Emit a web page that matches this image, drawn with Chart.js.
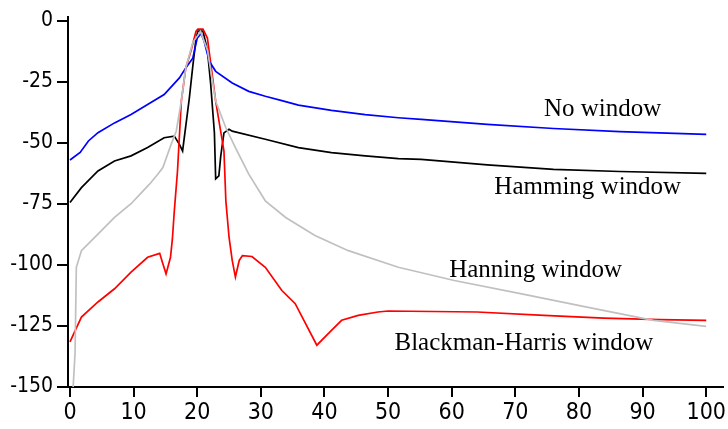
<!DOCTYPE html>
<html>
<head>
<meta charset="utf-8">
<script src="https://cdn.jsdelivr.net/npm/chart.js@4.4.1/dist/chart.umd.min.js"></script>
<style>
  html, body { margin: 0; padding: 0; background: #fff; }
</style>
</head>
<body>
<canvas id="myChart" width="728" height="429"></canvas>
<script>
// bin index on x, magnitude in dB on y
const noWinX = [0, 1.6, 2.9, 4.4, 7, 9.6, 12.2, 14.8, 17.2, 18.2, 19.3, 20, 20.6, 21.1, 21.9, 22.9, 25.5, 28.1, 30.7, 33.3, 35.9, 41.1, 46.4, 51.6, 55.2, 65.6, 76, 86.4, 100];
const noWinY = [-57.1, -54, -49.3, -45.9, -41.9, -38.5, -34.4, -30.3, -23.5, -19.4, -15.4, -7.2, -5.3, -8.6, -16.7, -20.8, -25.6, -29, -31, -32.8, -34.6, -36.8, -38.5, -39.8, -40.5, -42.5, -44.2, -45.5, -46.6];

const hammingX = [0, 1.8, 4.4, 7, 9.6, 12.2, 14.8, 16.4, 17.2, 17.7, 18.75, 19.3, 19.8, 20.1, 20.9, 21.6, 22.1, 22.7, 22.9, 23.4, 23.7, 24.2, 25, 25.5, 30.7, 35.9, 41.1, 46.4, 51.6, 55.2, 65.6, 76, 86.4, 100];
const hammingY = [-74.5, -68.4, -61.6, -57.5, -55.4, -52, -48, -47.3, -50.7, -53.4, -32, -18.8, -7.7, -4.3, -4.3, -12, -25.5, -46, -64.8, -63.6, -55.4, -46, -44.5, -45.3, -48.6, -52, -54.1, -55.4, -56.5, -56.8, -59.1, -60.9, -61.8, -62.6];

const hanningX = [0.5, 0.8, 1, 1.8, 4.4, 7, 9.6, 11.5, 12.5, 13.8, 14.6, 15.9, 16.7, 17.5, 18.2, 19.3, 20.5, 21.6, 22.9, 24.5, 26, 28.1, 30.7, 33.9, 38.5, 43.75, 51.6, 60.4, 70.8, 81.25, 91.7, 100];
const hanningY = [-150, -136, -101, -94.2, -87.4, -80.6, -75, -69.7, -67, -62.9, -60.2, -50.7, -45.3, -33, -19.4, -9, -4.5, -12, -33, -43.9, -52, -62.9, -73.8, -80.6, -88, -94.2, -101, -106.4, -111.8, -117.3, -122.7, -125.2];

const bharrisX = [0, 1.8, 4.4, 7, 9.6, 12.2, 14.1, 14.6, 15.1, 15.8, 16.1, 16.4, 16.9, 17.5, 18.2, 19, 19.8, 20.1, 20.9, 21.6, 22.9, 24.2, 24.5, 25, 25.5, 26, 26.6, 27.1, 28.6, 30.7, 33.3, 35.4, 38.8, 41.1, 42.7, 45.3, 48.4, 50, 64, 74.5, 83.9, 92.7, 100];
const bharrisY = [-131.5, -121.4, -115.2, -109.8, -103, -96.9, -95.3, -99.6, -103.7, -96.9, -89.3, -77.9, -61.6, -33, -19.4, -12.6, -4.5, -3.5, -3.5, -7.2, -33, -53.4, -73.8, -88.7, -98.2, -105, -98.2, -96.2, -96.6, -101, -110.5, -115.9, -132.9, -126.8, -122.7, -120.7, -119.3, -118.9, -119.3, -120.7, -121.8, -122.4, -122.7];

const xTicks = [0, 10, 20, 30, 40, 50, 60, 70, 80, 90, 100];
const yTicks = [0, -25, -50, -75, -100, -125, -150];

const seriesNames = ['No window', 'Hamming window', 'Hanning window', 'Blackman-Harris window'];
// where each name is written, in axis units (left edge, baseline)
const nameX = [74.5, 66.7, 59.6, 51.0];
const nameY = [-39.1, -71.1, -105.1, -134.9];

const pairs = (xs, ys) => xs.map((x, i) => ({ x: x, y: ys[i] }));

const seriesLabels = {
  id: 'seriesLabels',
  afterDatasetsDraw(chart) {
    const ctx = chart.ctx;
    const sx = chart.scales.x;
    const sy = chart.scales.y;
    ctx.save();
    ctx.font = '25px "Liberation Serif", "Times New Roman", serif';
    ctx.fillStyle = '#000';
    ctx.textAlign = 'left';
    ctx.textBaseline = 'alphabetic';
    seriesNames.forEach((name, i) => {
      ctx.fillText(name, sx.getPixelForValue(nameX[i]), sy.getPixelForValue(nameY[i]));
    });
    ctx.restore();
  }
};

const line = (label, xs, ys, color) => ({
  label: label,
  data: pairs(xs, ys),
  borderColor: color,
  backgroundColor: color,
  borderWidth: 1.7,
  pointRadius: 0,
  tension: 0,
  fill: false
});

new Chart(document.getElementById('myChart'), {
  type: 'line',
  data: {
    datasets: [
      line(seriesNames[2], hanningX, hanningY, '#c0c0c0'),
      line(seriesNames[0], noWinX, noWinY, '#0000ff'),
      line(seriesNames[3], bharrisX, bharrisY, '#ff0000'),
      line(seriesNames[1], hammingX, hammingY, '#000000')
    ]
  },
  options: {
    responsive: false,
    animation: false,
    layout: { padding: { top: 15, right: 1, left: 0, bottom: 0 } },
    plugins: {
      legend: { display: false },
      tooltip: { enabled: false }
    },
    scales: {
      x: {
        type: 'linear',
        min: -0.31,
        max: 102.6,
        afterFit: s => { s.height = 42; },
        afterBuildTicks: s => { s.ticks = xTicks.map(v => ({ value: v })); },
        border: { display: true, color: '#000', width: 2 },
        grid: { drawOnChartArea: false, drawTicks: true, tickLength: 10, color: '#000', lineWidth: 2 },
        ticks: {
          color: '#000',
          padding: 2,
          maxRotation: 0,
          font: { family: '"Liberation Sans Narrow", "DejaVu Sans Condensed", "Liberation Sans", sans-serif', size: 23 }
        }
      },
      y: {
        type: 'linear',
        min: -150,
        max: 1.6,
        afterFit: s => { s.width = 68; },
        afterBuildTicks: s => { s.ticks = yTicks.map(v => ({ value: v })); },
        border: { display: true, color: '#000', width: 2 },
        grid: { drawOnChartArea: false, drawTicks: true, tickLength: 11, color: '#000', lineWidth: 2 },
        ticks: {
          color: '#000',
          padding: 4,
          font: { family: '"Liberation Sans Narrow", "DejaVu Sans Condensed", "Liberation Sans", sans-serif', size: 21 }
        }
      }
    }
  },
  plugins: [seriesLabels]
});
</script>
</body>
</html>
